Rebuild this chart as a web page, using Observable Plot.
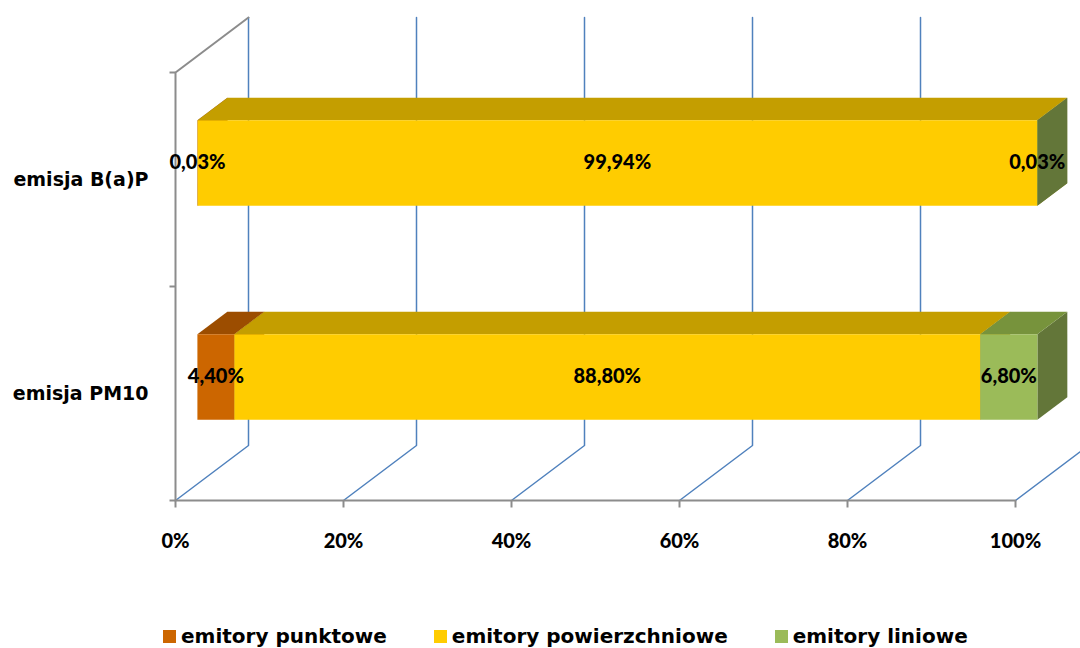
<!DOCTYPE html>
<html>
<head>
<meta charset="utf-8">
<script src="https://cdn.jsdelivr.net/npm/d3@7"></script>
<script src="https://cdn.jsdelivr.net/npm/@observablehq/plot@0.6"></script>
<style>
  html, body { margin: 0; padding: 0; background: #fff; overflow: hidden; }
  #legend { display: flex; gap: 47px; margin-left: 163px; padding-top: 14px;
            font: bold 20px "DejaVu Sans", sans-serif; line-height: 24px; color: #000; white-space: nowrap; }
  #legend .sw { display: inline-block; width: 13px; height: 13px; margin-right: 5px; }
</style>
</head>
<body>
<div id="chart"></div>
<div id="legend"></div>
<script>
// Emission shares by source type (percent of total)
const categories = ["emisja PM10", "emisja B(a)P"];
const series = ["emitory punktowe", "emitory powierzchniowe", "emitory liniowe"];
const pm10Values = [4.40, 88.80, 6.80];
const bapValues = [0.03, 99.94, 0.03];
const xTicks = [0, 20, 40, 60, 80, 100];

// Face colours of the 3-D boxes per series
const frontColors = ["#CC6600", "#FFCC00", "#9BBB59"];
const topColors = ["#9C4D00", "#C49E00", "#77933C"];
const sideColors = ["#8A4400", "#A88600", "#637639"];

const valuesByCategory = [pm10Values, bapValues];

// Oblique projection: depth z in [0,1] shifts right and up by a fixed pixel offset
const xRange = [175, 1015], yRange = [500, 72];
const xDomain = [0, 100], yDomain = [0, categories.length];
const pxX = (xDomain[1] - xDomain[0]) / (xRange[1] - xRange[0]);
const pxY = (yDomain[1] - yDomain[0]) / (yRange[0] - yRange[1]);
const depthPx = [73, 55];
const proj = (x, y, z) => ({x: x + z * depthPx[0] * pxX, y: y + z * depthPx[1] * pxY});

// Bar box placement inside each category band
const barHalf = 0.2, z0 = 0.3, z1 = 0.71;

// Gridlines on floor and back wall
const gridPts = [];
xTicks.forEach(t => {
  [proj(t, 0, 0), proj(t, 0, 1), proj(t, yDomain[1], 1)].forEach(p => gridPts.push({id: "g" + t, ...p}));
});
// Left wall edge and floor front edge
const wallPts = [proj(0, 0, 0), proj(0, yDomain[1], 0), proj(0, yDomain[1], 1)].map(p => ({id: "wall", ...p}));
const floorPts = [proj(0, 0, 0), proj(100, 0, 0)].map(p => ({id: "floor", ...p}));
const yTicks = d3.range(yDomain[1] + 1);

// Box faces: side, top, front for each stacked segment
const faces = [];
const labels = [];
valuesByCategory.forEach((vals, c) => {
  const yb = c + 0.5 - barHalf, yt = c + 0.5 + barHalf;
  let x1 = 0;
  vals.forEach((v, i) => {
    const x2 = x1 + v;
    const key = c + "-" + i;
    [[x2, yb, z0], [x2, yb, z1], [x2, yt, z1], [x2, yt, z0]]
      .forEach(([x, y, z]) => faces.push({id: key + "s", color: sideColors[i], ...proj(x, y, z)}));
    [[x1, yt, z0], [x2, yt, z0], [x2, yt, z1], [x1, yt, z1]]
      .forEach(([x, y, z]) => faces.push({id: key + "t", color: topColors[i], ...proj(x, y, z)}));
    [[x1, yb, z0], [x2, yb, z0], [x2, yt, z0], [x1, yt, z0]]
      .forEach(([x, y, z]) => faces.push({id: key + "f", color: frontColors[i], ...proj(x, y, z)}));
    labels.push({text: v.toFixed(2).replace(".", ",") + "%", ...proj((x1 + x2) / 2, c + 0.5, z0)});
    x1 = x2;
  });
});

const chart = Plot.plot({
  width: 1080,
  height: 610,
  x: {domain: xDomain, range: xRange, axis: null},
  y: {domain: yDomain, range: yRange, axis: null},
  color: {type: "identity"},
  marks: [
    Plot.line(gridPts, {x: "x", y: "y", z: "id", stroke: "#4F81BD", strokeWidth: 1.5}),
    Plot.line(wallPts, {x: "x", y: "y", z: "id", stroke: "#8C8C8C", strokeWidth: 2}),
    Plot.line(floorPts, {x: "x", y: "y", z: "id", stroke: "#8C8C8C", strokeWidth: 2}),
    Plot.link(xTicks, {x1: d => d, x2: d => d, y1: 0, y2: -7 * pxY, stroke: "#8C8C8C", strokeWidth: 2}),
    Plot.link(yTicks, {x1: -6 * pxX, x2: 0, y1: d => d, y2: d => d, stroke: "#8C8C8C", strokeWidth: 2}),
    Plot.line(faces, {x: "x", y: "y", z: "id", fill: "color", stroke: null, curve: "linear-closed"}),
    Plot.text(labels, {x: "x", y: "y", text: "text", fontFamily: "Lato", fontWeight: 900, fontSize: 20, fill: "#000"}),
    Plot.text(xTicks, {x: d => d, y: 0, dy: 41, text: d => d + "%", fontFamily: "Lato", fontWeight: 900, fontSize: 20, fill: "#000"}),
    Plot.text(categories, {x: 0, y: (d, i) => i + 0.5, dx: -27, text: d => d, textAnchor: "end",
      fontFamily: "DejaVu Sans", fontWeight: "bold", fontSize: 19, fill: "#000"})
  ]
});
document.getElementById("chart").append(chart);

// Legend with square swatches
const legend = document.getElementById("legend");
series.forEach((s, i) => {
  const item = document.createElement("span");
  const sw = document.createElement("span");
  sw.className = "sw";
  sw.style.background = frontColors[i];
  item.append(sw, document.createTextNode(s));
  legend.append(item);
});
</script>
</body>
</html>
